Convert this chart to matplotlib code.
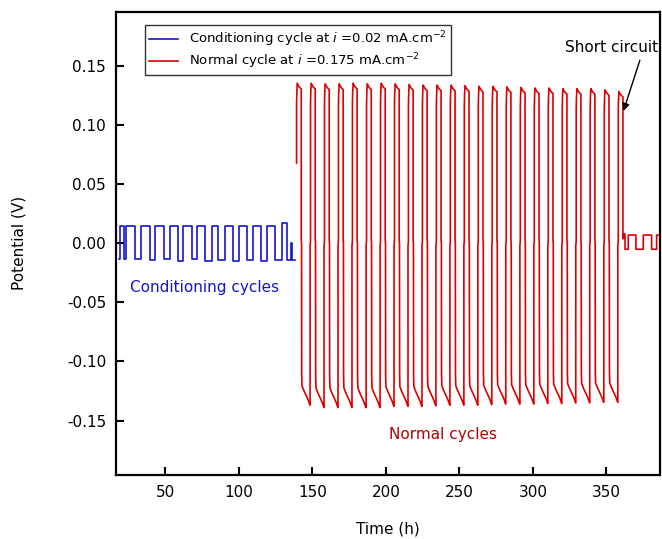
import numpy as np
import matplotlib
matplotlib.use("Agg")
import matplotlib.pyplot as plt
from matplotlib.ticker import FormatStrFormatter

plt.rcParams['font.family'] = ['DejaVu Sans']
plt.rcParams['axes.unicode_minus'] = False

# ── Data ─────────────────────────────────────────────────────────────────────
# conditioning cycles (blue): switching times (h) and plateau levels (V)
cond_up_t = [19.0, 23.5, 33.7, 42.8, 53.0, 62.0, 71.2, 81.4, 90.4, 100.1, 109.7, 118.8, 129.0]
cond_down_t = [21.7, 29.2, 39.4, 49.1, 58.6, 67.8, 76.8, 85.9, 96.1, 105.2, 114.9, 124.4, 132.8]
cond_hi = [0.0145, 0.0150, 0.0150, 0.0150, 0.0150, 0.0150, 0.0150, 0.0145, 0.0150, 0.0150, 0.0150, 0.0150, 0.0170]
cond_lo = [-0.0130, -0.0135, -0.0140, -0.0135, -0.0150, -0.0135, -0.0150, -0.0140, -0.0150, -0.0145, -0.0150, -0.0145, -0.0140]
cond_start = (18.5, -0.013)
cond_tail_t = [135.3, 136.0, 138.0]
cond_tail_v = [0.000, -0.014, -0.014]

# normal cycles (red): start of each cycle (h), peak and trough per cycle (V)
cycle_t0 = [139.2, 148.7, 158.2, 167.7, 177.2, 186.8, 196.3, 205.8, 215.3, 224.8, 234.3, 243.8,
            253.3, 262.8, 272.3, 281.8, 291.4, 300.9, 310.4, 319.9, 329.4, 338.9, 348.5, 358.0]
cycle_peak = [0.1355, 0.1355, 0.1350, 0.1350, 0.1355, 0.1350, 0.1355, 0.1350, 0.1345, 0.1340, 0.1340, 0.1340,
              0.1335, 0.1330, 0.1330, 0.1325, 0.1320, 0.1315, 0.1315, 0.1310, 0.1310, 0.1310, 0.1300, 0.1285]
cycle_min = [-0.137, -0.139, -0.139, -0.139, -0.139, -0.139, -0.138, -0.138, -0.138, -0.1375, -0.137, -0.137,
             -0.137, -0.1365, -0.136, -0.136, -0.136, -0.1355, -0.1355, -0.135, -0.135, -0.1345, -0.1345]
red_start_v = 0.068

# shape of one cycle (offset in h, potential relative to peak / trough)
pos_dt = [0.0, 0.2, 0.5, 1.0, 2.0, 3.2]
pos_rel = [0.87, 0.95, 1.0, 0.99, 0.975, 0.965]
neg_dt = [3.5, 3.7, 5.0, 6.5, 8.0, 9.1]
neg_rel = [0.81, 0.88, 0.91, 0.94, 0.97, 1.0]

# after the short circuit
short_t = [361.2, 361.6, 361.6, 362.6, 362.6, 364.8, 364.8, 370.0, 370.0, 375.0, 375.0, 380.7, 380.7, 384.1, 384.1, 387.0]
short_v = [0.004, 0.004, 0.008, 0.008, -0.005, -0.005, 0.007, 0.007, -0.005, -0.005, 0.007, 0.007, -0.005, -0.005, 0.007, 0.007]

# ── Build the traces ────────────────────────────────────────────────────────
bt, bv = [cond_start[0]], [cond_start[1]]
for k in range(len(cond_up_t)):
    lo_prev = cond_lo[k - 1] if k > 0 else cond_start[1]
    bt += [cond_up_t[k], cond_up_t[k], cond_down_t[k], cond_down_t[k]]
    bv += [lo_prev, cond_hi[k], cond_hi[k], cond_lo[k]]
bt += [cond_tail_t[0], cond_tail_t[0], cond_tail_t[1], cond_tail_t[1], cond_tail_t[2]]
bv += [cond_lo[-1], cond_tail_v[0], cond_tail_v[0], cond_tail_v[1], cond_tail_v[2]]

rt, rv = [cycle_t0[0]], [red_start_v]
for k, t0 in enumerate(cycle_t0):
    if k > 0:
        rt += [t0 - 0.3, t0 - 0.3, t0]
        rv += [cycle_min[k - 1], -0.002, 0.002]
    rt += [t0 + d for d in pos_dt]
    rv += [cycle_peak[k] * r for r in pos_rel]
    if k < len(cycle_min):
        rt += [t0 + pos_dt[-1], t0 + neg_dt[0] - 0.1]
        rv += [0.003, 0.0]
        rt += [t0 + d for d in neg_dt]
        rv += [cycle_min[k] * r for r in neg_rel]
rt += short_t
rv += short_v

# ── Plot ────────────────────────────────────────────────────────────────────
fig = plt.figure(figsize=(6.62, 5.39), dpi=100)
ax = fig.add_axes([0.175, 0.119, 0.822, 0.859])

ax.plot(bt, bv, color='#1414d2', lw=1.2,
        label='Conditioning cycle at $i$ =0.02 mA.cm$^{-2}$')
ax.plot(rt, rv, color='#dc0000', lw=1.2,
        label='Normal cycle at $i$ =0.175 mA.cm$^{-2}$')

ax.set_xlim(16.3, 386.4)
ax.set_ylim(-0.196, 0.196)
ax.set_xticks([50, 100, 150, 200, 250, 300, 350])
ax.set_yticks([-0.15, -0.10, -0.05, 0.00, 0.05, 0.10, 0.15])
ax.yaxis.set_major_formatter(FormatStrFormatter('%.2f'))
ax.tick_params(direction='in', length=6, width=1.5, labelsize=11, pad=7)
for s in ax.spines.values():
    s.set_linewidth(1.6)

ax.set_xlabel('Time (h)', fontsize=11, labelpad=16)
ax.set_ylabel('Potential (V)', fontsize=11, labelpad=29)

ax.text(76.5, -0.037, 'Conditioning cycles', color='#1414d2', fontsize=11,
        ha='center', va='center')
ax.text(238.5, -0.162, 'Normal cycles', color='#b40000', fontsize=11,
        ha='center', va='center')
ax.text(353.7, 0.166, 'Short circuit', fontsize=11, ha='center', va='center')
ax.annotate('', xy=(361.5, 0.112), xytext=(372.7, 0.155),
            arrowprops=dict(arrowstyle='-|>', color='black', lw=1,
                            mutation_scale=11, shrinkA=0, shrinkB=0),
            annotation_clip=False)

leg = ax.legend(loc='upper left', bbox_to_anchor=(0.042, 0.985), fontsize=9.5,
                frameon=True, fancybox=False, edgecolor='black',
                handlelength=2.2, borderpad=0.3, labelspacing=0.2)
leg.get_frame().set_linewidth(1.0)

fig.savefig('out.png', dpi=100)
